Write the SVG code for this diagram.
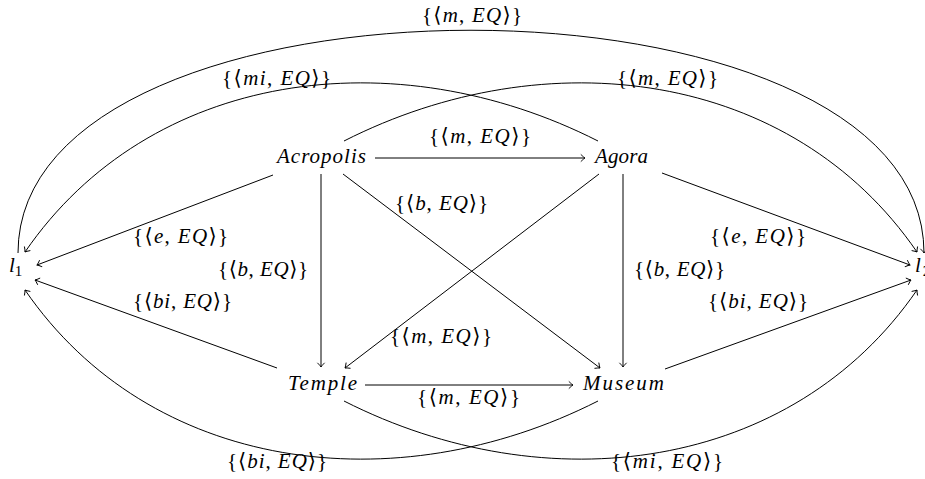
<svg xmlns="http://www.w3.org/2000/svg" width="925" height="479" viewBox="0 0 925 479">
<defs>
<style>
.t{font-family:"Liberation Serif","DejaVu Serif",serif;font-size:21px;fill:#000}
.i{font-style:italic}
.s{font-size:15px}
.e{fill:none;stroke:#000;stroke-width:1;marker-end:url(#arr)}
</style>
<marker id="arr" viewBox="-6 -5 8 10" markerWidth="8" markerHeight="10" refX="0" refY="0" orient="auto" markerUnits="userSpaceOnUse">
<path d="M-4.2,-3.6 Q-1.3,-0.7 0,0 Q-1.3,0.7 -4.2,3.6" fill="none" stroke="#000" stroke-width="0.9"/>
</marker>
</defs>
<rect width="925" height="479" fill="#fff"/>
<g id="connectors">
<path class="e" d="M375,158 H585"/>
<path class="e" d="M365,385 H573"/>
<path class="e" d="M321,174 V367"/>
<path class="e" d="M623,174 V367"/>
<path class="e" d="M343,174 L600,368"/>
<path class="e" d="M599,174 L345,368"/>
<path class="e" d="M273,175 L37,265"/>
<path class="e" d="M277,368 L35,280"/>
<path class="e" d="M662,173 L910,265"/>
<path class="e" d="M665,369 L911,280"/>
<path class="e" d="M18,253 C18,-44 924,-44 924,253"/>
<path class="e" d="M598,141 C395,38 150,70 25,252"/>
<path class="e" d="M344,141 C547,38 792,70 917,252"/>
<path class="e" d="M598,401 C395,504 150,472 25,290"/>
<path class="e" d="M344,401 C547,504 792,472 917,290"/>
</g>
<g id="labels">
<text class="t" x="422" y="22" textLength="100">{⟨<tspan class="i">m</tspan>, <tspan class="i">EQ</tspan>⟩}</text>
<text class="t" x="222" y="85" textLength="109">{⟨<tspan class="i">mi</tspan>, <tspan class="i">EQ</tspan>⟩}</text>
<text class="t" x="617" y="85" textLength="101">{⟨<tspan class="i">m</tspan>, <tspan class="i">EQ</tspan>⟩}</text>
<text class="t" x="429" y="143" textLength="102">{⟨<tspan class="i">m</tspan>, <tspan class="i">EQ</tspan>⟩}</text>
<text class="t" x="133" y="243" textLength="95">{⟨<tspan class="i">e</tspan>, <tspan class="i">EQ</tspan>⟩}</text>
<text class="t" x="218" y="276" textLength="90">{⟨<tspan class="i">b</tspan>, <tspan class="i">EQ</tspan>⟩}</text>
<text class="t" x="133" y="308" textLength="99">{⟨<tspan class="i">bi</tspan>, <tspan class="i">EQ</tspan>⟩}</text>
<text class="t" x="395" y="210" textLength="93">{⟨<tspan class="i">b</tspan>, <tspan class="i">EQ</tspan>⟩}</text>
<text class="t" x="390" y="343" textLength="102">{⟨<tspan class="i">m</tspan>, <tspan class="i">EQ</tspan>⟩}</text>
<text class="t" x="710" y="243" textLength="96">{⟨<tspan class="i">e</tspan>, <tspan class="i">EQ</tspan>⟩}</text>
<text class="t" x="634" y="276" textLength="91">{⟨<tspan class="i">b</tspan>, <tspan class="i">EQ</tspan>⟩}</text>
<text class="t" x="708" y="308" textLength="100">{⟨<tspan class="i">bi</tspan>, <tspan class="i">EQ</tspan>⟩}</text>
<text class="t" x="417" y="404" textLength="103">{⟨<tspan class="i">m</tspan>, <tspan class="i">EQ</tspan>⟩}</text>
<text class="t" x="227" y="468" textLength="100">{⟨<tspan class="i">bi</tspan>, <tspan class="i">EQ</tspan>⟩}</text>
<text class="t" x="611" y="468" textLength="112">{⟨<tspan class="i">mi</tspan>, <tspan class="i">EQ</tspan>⟩}</text>
</g>
<g id="Acropolis"><text class="t i" x="277" y="163" textLength="89">Acropolis</text></g>
<g id="Agora"><text class="t i" x="595" y="163" textLength="53">Agora</text></g>
<g id="Temple"><text class="t i" x="288" y="390" textLength="69">Temple</text></g>
<g id="Museum"><text class="t i" x="583" y="390" textLength="81">Museum</text></g>
<g id="l1"><text class="t" x="9" y="272"><tspan class="i">l</tspan><tspan class="s" dy="4">1</tspan></text></g>
<g id="l2"><text class="t" x="915" y="272"><tspan class="i">l</tspan><tspan class="s" dy="4" dx="2">2</tspan></text></g>
</svg>
